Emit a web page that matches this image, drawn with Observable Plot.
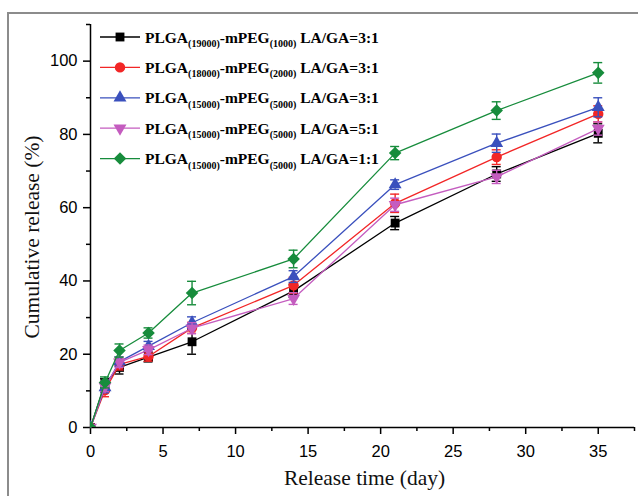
<!DOCTYPE html>
<html><head><meta charset="utf-8">
<script src="https://cdn.jsdelivr.net/npm/d3@7"></script>
<script src="https://cdn.jsdelivr.net/npm/@observablehq/plot@0.6"></script>
<style>
html,body{margin:0;padding:0;background:#fff;}
#wrap{position:relative;width:638px;height:496px;overflow:hidden;background:#fff;}
#chart{position:absolute;left:0;top:0;}
#frame{position:absolute;left:7px;top:12px;width:700px;height:600px;border-top:2px solid #8c8c8c;border-left:2px solid #8c8c8c;pointer-events:none;}
#legend{position:absolute;left:0;top:0;}
</style></head><body>
<div id="wrap"><div id="chart"></div><div id="frame"></div><svg id="legend" width="638" height="190"></svg></div>
<script>
// ---- data ----
const days = [0, 1, 2, 4, 7, 14, 21, 28, 35];

const release19000 = [0, 12.0, 16.4, 19.2, 23.4, 37.3, 55.8, 69.2, 80.3];
const release18000 = [0, 10.2, 17.2, 19.4, 27.2, 38.8, 61.2, 73.8, 85.6];
const release15000_31 = [0, 10.9, 18.0, 22.2, 28.6, 41.2, 66.3, 77.6, 87.4];
const release15000_51 = [0, 11.2, 17.8, 21.2, 27.1, 35.2, 60.8, 68.4, 81.6];
const release15000_11 = [0, 12.3, 21.0, 25.8, 36.7, 46.0, 74.9, 86.5, 96.8];

const err19000 = [0, 1.3, 1.8, 1.3, 3.4, 1.8, 1.8, 2.0, 2.6];
const err18000 = [0, 1.8, 1.5, 1.3, 1.5, 2.2, 2.5, 2.0, 2.2];
const err15000_31 = [0, 1.4, 1.3, 1.3, 1.6, 1.6, 1.3, 2.5, 2.6];
const err15000_51 = [0, 1.4, 1.4, 1.3, 1.5, 1.6, 1.8, 1.8, 1.8];
const err15000_11 = [0, 1.5, 1.8, 1.4, 3.2, 2.4, 1.8, 2.4, 2.8];

const plgaMw = ["19000", "18000", "15000", "15000", "15000"];
const pegMw = ["1000", "2000", "5000", "5000", "5000"];
const ratios = ["3:1", "3:1", "3:1", "5:1", "1:1"];

const xMajorTicks = [0, 5, 10, 15, 20, 25, 30, 35];
const xMinorTicks = [2.5, 7.5, 12.5, 17.5, 22.5, 27.5, 32.5, 37.5];
const yMajorTicks = [0, 20, 40, 60, 80, 100];
const yMinorTicks = [10, 30, 50, 70, 90, 110];

const xTitle = "Release time (day)";
const yTitle = "Cumulative release (%)";

// ---- styling ----
const colors = ["#000000", "#f22626", "#3a50bd", "#c45cbf", "#178c3c"];
const symbols = ["square", "circle", "triangle", "triangle", "square"];
const rotations = [0, 0, 0, 180, 45];
const radii = [5.0, 5.2, 4.8, 4.8, 5.0];

const values = [release19000, release18000, release15000_31, release15000_51, release15000_11];
const errors = [err19000, err18000, err15000_31, err15000_51, err15000_11];

const rows = [];
values.forEach((vals, s) => vals.forEach((v, i) => rows.push({s, day: days[i], v, e: errors[s][i]})));

const serif = "'Liberation Serif', 'Times New Roman', Times, serif";

const marks = [
  Plot.axisY({ticks: yMajorTicks, tickSize: 7, tickPadding: 6, strokeWidth: 1.5, fontSize: 16.5, label: null}),
  Plot.axisY({ticks: yMinorTicks, tickSize: 4, tickFormat: () => "", strokeWidth: 1.5, label: null}),
  Plot.axisX({ticks: xMajorTicks, tickSize: 7, tickPadding: 11, strokeWidth: 1.5, fontSize: 16.5, label: null}),
  Plot.axisX({ticks: xMinorTicks, tickSize: 4, tickFormat: () => "", strokeWidth: 1.5, label: null}),
  Plot.ruleX([0], {strokeWidth: 1.5}),
  Plot.ruleY([0], {strokeWidth: 1.5}),
  Plot.text([xTitle], {frameAnchor: "bottom", textAnchor: "middle", lineAnchor: "middle", dy: 51, dx: 2, fontSize: 21.5, fontFamily: serif, fill: "#111"}),
  Plot.text([yTitle], {frameAnchor: "left", textAnchor: "middle", lineAnchor: "middle", rotate: -90, dx: -58, dy: 11, fontSize: 21.5, fontFamily: serif, fill: "#111"})
];

for (let s = 0; s < values.length; s++) {
  const d = rows.filter(r => r.s === s);
  const de = d.filter(r => r.e > 0);
  const c = colors[s];
  marks.push(Plot.line(d, {x: "day", y: "v", stroke: c, strokeWidth: 1.3}));
  marks.push(Plot.ruleX(de, {x: "day", y1: r => r.v - r.e, y2: r => r.v + r.e, stroke: c, strokeWidth: 1.4}));
  marks.push(Plot.ruleY(de, {y: r => r.v - r.e, x1: "day", x2: "day", insetLeft: -4.5, insetRight: -4.5, stroke: c, strokeWidth: 1.4}));
  marks.push(Plot.ruleY(de, {y: r => r.v + r.e, x1: "day", x2: "day", insetLeft: -4.5, insetRight: -4.5, stroke: c, strokeWidth: 1.4}));
  marks.push(Plot.dot(d, {x: "day", y: "v", symbol: symbols[s], r: radii[s], fill: c, rotate: rotations[s], clip: true}));
}

const chart = Plot.plot({
  width: 638,
  height: 496,
  marginLeft: 90,
  marginRight: 4,
  marginTop: 24,
  marginBottom: 69,
  x: {domain: [0, 37.5]},
  y: {domain: [0, 110]},
  style: {fontFamily: "'Liberation Sans', Arial, sans-serif", background: "#fff", color: "#000", overflow: "visible"},
  marks
});
document.getElementById("chart").appendChild(chart);

// ---- legend ----
const lg = d3.select("#legend");
const symTypes = {square: d3.symbolSquare, circle: d3.symbolCircle, triangle: d3.symbolTriangle, diamond: d3.symbolDiamond};
for (let i = 0; i < 5; i++) {
  const cy = 37 + i * 30.4;
  lg.append("line").attr("x1", 100).attr("x2", 140).attr("y1", cy).attr("y2", cy)
    .attr("stroke", colors[i]).attr("stroke-width", 1.3);
  lg.append("path")
    .attr("d", d3.symbol(symTypes[symbols[i]], Math.PI * radii[i] * radii[i])())
    .attr("transform", `translate(120,${cy}) rotate(${rotations[i]})`)
    .attr("fill", colors[i]);
  const t = lg.append("text").attr("x", 145).attr("y", cy + 5.5)
    .attr("font-family", serif).attr("font-weight", "bold").attr("font-size", 15.5)
    .attr("fill", "#000").style("white-space", "pre");
  t.append("tspan").text("PLGA");
  t.append("tspan").attr("font-size", 10).attr("dy", 4.5).text(`(${plgaMw[i]})`);
  t.append("tspan").attr("dy", -4.5).text("-mPEG");
  t.append("tspan").attr("font-size", 10).attr("dy", 4.5).text(`(${pegMw[i]})`);
  t.append("tspan").attr("dy", -4.5).text(` LA/GA=${ratios[i]}`);
}
</script>
</body></html>
